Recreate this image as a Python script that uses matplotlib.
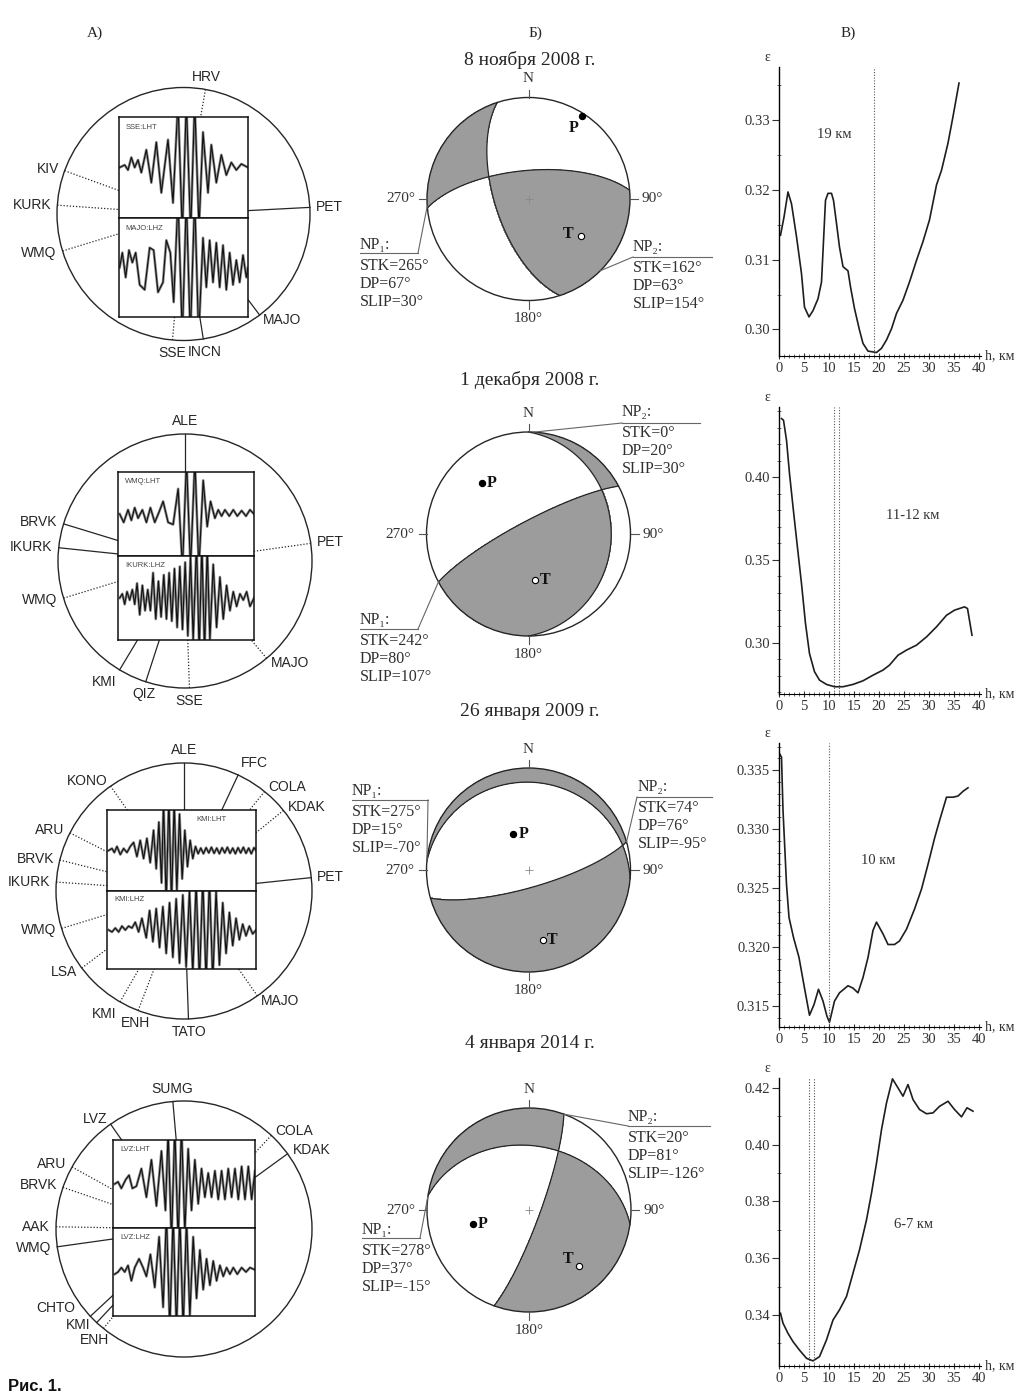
import numpy as np
import matplotlib.pyplot as plt
from matplotlib.patches import Circle
from matplotlib.ticker import MultipleLocator, FormatStrFormatter

plt.rcParams['font.family'] = ['Liberation Serif', 'DejaVu Serif']
SANS = ['Liberation Sans', 'DejaVu Sans']

W, H = 1025, 1396

# ---------------- data: focal mechanisms ----------------
DATES = ['8 ноября 2008 г.', '1 декабря 2008 г.', '26 января 2009 г.', '4 января 2014 г.']
NP1_STK = [265, 242, 275, 278]
NP1_DP = [67, 80, 15, 37]
NP1_SLIP = [30, 107, -70, -15]
NP2_STK = [162, 0, 74, 20]
NP2_DP = [63, 20, 76, 81]
NP2_SLIP = [154, 30, -95, -126]

# ---------------- data: stations (angle on scheme, deg ccw from east; 1 = dotted) ----------------
ST1_NAMES = ['HRV', 'KIV', 'KURK', 'WMQ', 'PET', 'MAJO', 'SSE', 'INCN']
ST1_ANG = [80, 160, 176, 197, 3, -53, -95, -81]
ST1_DOT = [1, 1, 1, 1, 0, 0, 1, 0]

ST2_NAMES = ['ALE', 'BRVK', 'IKURK', 'WMQ', 'PET', 'MAJO', 'KMI', 'QIZ', 'SSE']
ST2_ANG = [90, 163, 174, 197, 8, -50, -121, -108, -88]
ST2_DOT = [0, 0, 0, 1, 1, 1, 0, 0, 1]

ST3_NAMES = ['ALE', 'FFC', 'COLA', 'KDAK', 'KONO', 'ARU', 'BRVK', 'IKURK',
             'WMQ', 'PET', 'LSA', 'KMI', 'ENH', 'TATO', 'MAJO']
ST3_ANG = [90, 65, 51, 39, 125, 153, 166, 176, 197, 6, 217, 240, 249, 272, -55]
ST3_DOT = [0, 0, 1, 1, 1, 1, 1, 1, 1, 0, 1, 1, 1, 0, 1]

ST4_NAMES = ['SUMG', 'LVZ', 'COLA', 'KDAK', 'ARU', 'BRVK', 'AAK', 'WMQ', 'CHTO', 'KMI', 'ENH']
ST4_ANG = [95, 125, 47, 36, 151, 161, 179, 188, 223, 227, 231]
ST4_DOT = [0, 0, 1, 0, 1, 1, 1, 0, 0, 0, 1]
ST4_LAB = [95, 125, 47, 36, 151, 161, 179, 188, 216, 226, 236]

# ---------------- data: waveforms (time in arbitrary units, amplitude) ----------------
TR_LABELS = [('SSE:LHT', 'MAJO:LHZ'), ('WMQ:LHT', 'IKURK:LHZ'),
             ('KMI:LHT', 'KMI:LHZ'), ('LVZ:LHT', 'LVZ:LHZ')]
TR_SPAN = [(358, 745), (355, 762), (320, 768), (340, 765)]

tr1_top_t = [360, 375, 385, 395, 405, 415, 425, 440, 455, 470, 485, 505, 520, 535, 548,
             560, 573, 585, 598, 610, 625, 635, 650, 665, 680, 695, 710, 725, 745]
tr1_top_a = [0, 0.05, -0.05, 0.2, 0, 0.15, -0.1, 0.35, -0.3, 0.5, -0.5, 0.55, -0.7, 1.3, -1.3,
             1.3, -1.3, 1.3, -1.2, 0.7, -0.5, 0.45, -0.3, 0.25, -0.15, 0.1, -0.05, 0.07, 0]
tr1_bot_t = [360, 368, 378, 388, 398, 408, 420, 435, 450, 462, 475, 490, 500, 512, 522, 535,
             548, 560, 572, 585, 597, 610, 620, 630, 640, 650, 660, 670, 680, 690, 700, 710,
             720, 730, 740, 745]
tr1_bot_a = [0, 0.3, -0.2, 0.35, 0.1, 0.3, -0.35, -0.45, 0.4, 0.35, -0.5, -0.3, 0.55, 0.3, -0.7,
             1.4, -1.4, 1.4, -1.4, 1.4, -1.4, 0.6, -0.4, 0.55, -0.3, 0.5, -0.4, 0.45, -0.45, 0.3,
             -0.35, 0.15, -0.3, 0.25, -0.2, 0]

tr2_top_t = [360, 372, 385, 395, 405, 415, 428, 440, 452, 465, 478, 490, 505, 520, 535, 548,
             560, 572, 585, 597, 610, 622, 632, 645, 655, 665, 675, 688, 700, 712, 725, 738,
             750, 762]
tr2_top_a = [0, -0.2, 0.1, -0.15, 0.15, -0.1, 0.1, -0.2, 0.15, -0.2, 0.05, 0.3, -0.2, -0.25,
             0.6, -1.3, 1.3, -1.3, 1.3, -1.3, 0.8, -0.3, 0.3, -0.1, 0.1, -0.05, 0.1, -0.05,
             0.1, -0.05, 0.08, -0.05, 0.1, 0]
tr2_bot_t = [360, 368, 375, 382, 390, 398, 405, 412, 420, 428, 436, 444, 452, 460, 468, 476,
             484, 492, 500, 508, 516, 524, 532, 540, 548, 556, 564, 572, 580, 590, 598, 606,
             614, 622, 630, 640, 650, 660, 670, 680, 690, 700, 710, 720, 730, 740, 750, 762]
tr2_bot_a = [0, 0.1, -0.15, 0.15, -0.05, 0.2, -0.15, 0.35, -0.4, 0.3, -0.3, 0.2, -0.3, 0.6,
             -0.5, 0.4, -0.45, 0.55, -0.5, 0.6, -0.55, 0.7, -0.7, 0.75, -0.75, 0.85, -0.9,
             1.0, -1.0, 1.3, -1.3, 1.3, -1.3, 1.2, -1.0, 0.8, -0.7, 0.5, -0.5, 0.3, -0.3,
             0.15, -0.2, 0.1, -0.05, 0.15, -0.2, 0]

tr3_top_t = [325, 335, 342, 350, 360, 370, 380, 390, 400, 410, 420, 430, 440, 450, 460, 468,
             476, 484, 490, 498, 506, 514, 522, 530, 538, 546, 554, 562, 570, 578, 586, 594,
             602, 610, 618, 626, 634, 642, 650, 658, 666, 674, 682, 690, 698, 706, 714, 722,
             730, 738, 746, 754, 762, 768]
tr3_top_a = [0, 0.05, -0.05, 0.1, -0.1, 0.05, -0.05, 0.1, 0.2, -0.15, 0.25, -0.2, 0.3, -0.3,
             0.5, -0.45, 0.7, -0.8, 1.2, -1.3, 1.3, -1.3, 1.2, -1.0, 0.9, -0.7, 0.5, -0.4,
             0.25, -0.2, 0.1, -0.08, 0.06, -0.08, 0.07, -0.06, 0.08, -0.07, 0.06, -0.08, 0.07,
             -0.06, 0.08, -0.07, 0.06, -0.08, 0.07, -0.06, 0.08, -0.07, 0.06, -0.08, 0.07, 0]
tr3_bot_t = [325, 335, 345, 355, 365, 375, 385, 395, 405, 415, 425, 438, 448, 458, 468, 478,
             488, 498, 508, 518, 528, 538, 548, 558, 568, 578, 588, 598, 608, 618, 628, 638,
             648, 658, 668, 678, 688, 698, 708, 718, 728, 738, 748, 758, 768]
tr3_bot_a = [0, -0.05, 0.05, -0.05, 0.1, 0, 0.1, 0.05, 0.2, -0.05, 0.3, -0.2, 0.5, -0.3, 0.55,
             -0.45, 0.6, -0.6, 0.7, -0.7, 0.8, -0.85, 0.9, -0.95, 1.0, -1.1, 1.2, -1.3, 1.3,
             -1.3, 1.3, -1.3, 1.0, -0.9, 0.7, -0.6, 0.45, -0.4, 0.3, -0.25, 0.15, -0.15, 0.1,
             -0.1, 0]

tr4_top_t = [345, 355, 365, 378, 388, 398, 410, 425, 440, 455, 470, 485, 497, 505, 515, 525,
             535, 545, 555, 565, 575, 585, 595, 605, 615, 625, 635, 645, 655, 665, 675, 685,
             695, 705, 715, 725, 735, 745, 755, 765]
tr4_top_a = [0, 0.05, -0.1, 0.1, 0.2, -0.1, -0.05, 0.35, -0.3, 0.55, -0.5, 0.75, -0.6, 1.2,
             -1.3, 1.3, -1.3, 1.3, -1.1, 0.8, -0.6, 0.55, -0.45, 0.35, -0.3, 0.25, -0.3, 0.3,
             -0.35, 0.3, -0.35, 0.35, -0.3, 0.35, -0.35, 0.4, -0.35, 0.4, -0.35, 0.3]
tr4_bot_t = [345, 355, 365, 375, 385, 395, 405, 418, 430, 440, 452, 465, 478, 490, 500, 510,
             520, 530, 540, 550, 560, 570, 580, 590, 600, 610, 620, 630, 640, 650, 660, 670,
             680, 690, 700, 712, 725, 738, 750, 765]
tr4_bot_a = [-0.05, 0, 0.1, 0, 0.15, -0.2, 0.1, 0.3, 0.1, -0.1, 0.4, -0.35, 0.8, -0.8, 1.3,
             -1.3, 1.3, -1.3, 1.3, -1.3, 1.2, -1.0, 0.8, -0.6, 0.5, -0.4, 0.3, -0.3, 0.25,
             -0.2, 0.15, -0.1, 0.1, -0.05, 0.1, -0.05, 0.1, 0, 0.1, 0.05]

# ---------------- data: misfit vs depth ----------------
H_1 = [0.3, 1, 1.8, 2.5, 3.5, 4.5, 5.1, 6, 6.8, 7.8, 8.5, 9.3, 9.8, 10.5, 10.9, 11.5, 12.1,
       12.8, 13.8, 14.3, 15.1, 16.1, 16.8, 17.8, 19.5, 20.5, 21.5, 22.5, 23.5, 24.8, 26.1,
       27.5, 28.8, 30.1, 31.5, 32.5, 33.8, 34.8, 36]
E_1 = [0.3135, 0.3161, 0.3197, 0.318, 0.3133, 0.308, 0.3032, 0.3018, 0.3027, 0.3044, 0.3068,
       0.3185, 0.3195, 0.3195, 0.3185, 0.3152, 0.3118, 0.309, 0.3084, 0.3061, 0.303, 0.2999,
       0.298, 0.2969, 0.2967, 0.2973, 0.2985, 0.3001, 0.3023, 0.3042, 0.3068, 0.3099, 0.3126,
       0.3157, 0.3207, 0.3228, 0.3267, 0.3305, 0.3353]
H_2 = [0.5, 0.9, 1.5, 2.1, 2.8, 3.6, 4.5, 5.3, 6.1, 7.1, 8.1, 9.5, 11.1, 12.8, 14.8, 16.8,
       18.8, 20.8, 22.1, 23.8, 25.5, 27.5, 29.5, 31.5, 33.5, 35.1, 37.1, 37.7, 38.6]
E_2 = [0.4357, 0.4347, 0.4226, 0.4024, 0.3823, 0.3601, 0.3357, 0.3115, 0.2933, 0.2823, 0.2772,
       0.2746, 0.2732, 0.2732, 0.2746, 0.2768, 0.2802, 0.2833, 0.2863, 0.2923, 0.2954, 0.2984,
       0.3034, 0.3095, 0.3165, 0.3196, 0.3216, 0.3206, 0.3044]
H_3 = [0.1, 0.5, 0.8, 1.5, 2.0, 2.9, 4.0, 5.1, 6.1, 7.0, 7.9, 8.8, 9.6, 10.1, 11.1, 12.1, 13.8,
       14.8, 15.8, 16.8, 17.8, 18.8, 19.5, 20.8, 21.8, 23.1, 24.1, 25.5, 27.1, 28.5, 29.8,
       31.1, 32.1, 33.5, 34.8, 35.8, 36.8, 37.8]
E_3 = [0.3364, 0.3361, 0.3316, 0.3253, 0.3225, 0.3208, 0.3191, 0.3165, 0.3142, 0.3151, 0.3164,
       0.3154, 0.3141, 0.3136, 0.3154, 0.3161, 0.3167, 0.3165, 0.3161, 0.3174, 0.3191, 0.3214,
       0.3221, 0.3211, 0.3202, 0.3202, 0.3205, 0.3215, 0.3232, 0.3249, 0.327, 0.3292, 0.3307,
       0.3327, 0.3327, 0.3328, 0.3332, 0.3335]
H_4 = [0.3, 0.8, 1.8, 2.8, 4.1, 5.5, 6.8, 8.1, 9.5, 10.8, 12.1, 13.5, 14.8, 16.1, 17.5, 18.5,
       19.5, 20.5, 21.5, 22.7, 23.8, 24.8, 25.8, 26.8, 28.1, 29.5, 30.8, 32.1, 33.8, 35.1,
       36.5, 37.6, 38.8]
E_4 = [0.3406, 0.3371, 0.3335, 0.3306, 0.3276, 0.3247, 0.3238, 0.3253, 0.3312, 0.3382, 0.3418,
       0.3465, 0.3547, 0.3629, 0.3735, 0.3829, 0.3935, 0.4053, 0.4147, 0.4232, 0.42, 0.4171,
       0.4212, 0.4159, 0.4124, 0.4109, 0.4112, 0.4135, 0.4153, 0.4124, 0.4098, 0.413, 0.4118]
BEST_DEPTH = [[19], [11, 12], [10], [6, 7]]
DEPTH_NOTE = ['19 км', '11-12 км', '10 км', '6-7 км']

# ---------------- layout (pixels) ----------------
CIRC_A = [(183.5, 214, 126.5), (185, 561, 127), (184, 891, 128), (184, 1229, 128)]
BOX_A = [(119, 117, 248, 317, 218), (118, 472, 254, 640, 556),
         (107, 810, 256, 969, 891), (113, 1140, 255, 1316, 1228)]
CIRC_B = [(528.5, 199, 101.5), (528.5, 534, 102), (528.5, 870, 102), (529, 1210, 102)]
DATE_Y = [60, 380, 712, 1043]
# text x, first-line y, underline y, underline x0, x1, anchor azimuth on circle
NP1_POS = [(360, 245, 253, 360, 418, 266), (360, 620, 629, 360, 418, 242),
           (352, 791, 800, 352, 428, 275), (362, 1230, 1238, 362, 420, 278)]
NP2_POS = [(633, 247, 257, 633, 712, 135), (622, 412, 423, 622, 700, 3),
           (638, 787, 797, 637, 712, 74), (628, 1117, 1126, 628, 710, 20)]
PT_OFF = [((-8, 12), (-13, -2)), ((10, 0), (10, 0)), ((10, 0), (10, 0)), ((10, 0), (-11, -7))]
C_RECT = [(779, 67, 981, 356), (779, 407, 981, 694), (779, 743, 981, 1027), (779, 1078, 981, 1366)]
C_YLIM = [(0.2962, 0.3376), (0.2688, 0.4427), (0.3132, 0.3373), (0.322, 0.4235)]
C_YTICKS = [[0.30, 0.31, 0.32, 0.33], [0.30, 0.35, 0.40],
            [0.315, 0.320, 0.325, 0.330, 0.335], [0.34, 0.36, 0.38, 0.40, 0.42]]
C_MINOR = [0.005, 0.01, 0.001, 0.01]
C_FMT = ['%.2f', '%.2f', '%.3f', '%.2f']
NOTE_XY = [(11, 0.3279), (26.8, 0.3772), (19.8, 0.3273), (26.8, 0.3718)]

INK = '#262626'
GRAY = '#9c9c9c'


def fig_rect(x0, y0, x1, y1):
    return [x0 / W, 1 - y1 / H, (x1 - x0) / W, (y1 - y0) / H]


fig = plt.figure(figsize=(W / 100, H / 100), dpi=100)
ov = fig.add_axes([0, 0, 1, 1])
ov.set_xlim(0, W)
ov.set_ylim(H, 0)
ov.axis('off')
ov.patch.set_visible(False)

# column headers
for x, s in [(95, 'А)'), (535, 'Б)'), (848, 'В)')]:
    ov.text(x, 33, s, ha='center', va='center', fontsize=11, color=INK)


# ---------------- column A: station scheme + waveforms ----------------
def station_scheme(i, names, angs, dots, labs, traces):
    cx, cy, R = CIRC_A[i]
    bx0, by0, bx1, by1, bym = BOX_A[i]
    ov.add_patch(Circle((cx, cy), R, fill=False, ec=INK, lw=1.0))
    for name, a, dot, la in zip(names, angs, dots, labs):
        ux, uy = np.cos(np.radians(a)), -np.sin(np.radians(a))
        sx = ((bx1 - cx) / ux if ux > 0 else (bx0 - cx) / ux) if abs(ux) > 1e-9 else 1e9
        sy = ((by1 - cy) / uy if uy > 0 else (by0 - cy) / uy) if abs(uy) > 1e-9 else 1e9
        s_in = min(sx, sy)
        ov.plot([cx + R * ux, cx + s_in * ux], [cy + R * uy, cy + s_in * uy],
                color=INK, lw=0.9, ls=(0, (1, 1.5)) if dot else '-')
        lx, ly = np.cos(np.radians(la)), np.sin(np.radians(la))
        ha = 'left' if lx > 0.4 else ('right' if lx < -0.4 else 'center')
        va = 'bottom' if ly > 0.85 else ('top' if ly < -0.85 else 'center')
        ov.text(cx + (R + 6) * lx, cy - (R + 6) * ly, name, ha=ha, va=va,
                fontsize=10, family=SANS, color=INK)
    t0, t1 = TR_SPAN[i]
    for k, (yy0, yy1) in enumerate([(by0, bym), (bym, by1)]):
        ax = fig.add_axes(fig_rect(bx0, yy0, bx1, yy1))
        t, a = traces[k]
        ax.plot(t, a, color='#8a8a8a', lw=1.9, solid_joinstyle='round')
        ax.plot(t, a, color='#111111', lw=0.8)
        ax.set_xlim(t0, t1)
        ax.set_ylim(-1, 1)
        ax.set_xticks([])
        ax.set_yticks([])
        for sp in ax.spines.values():
            sp.set_linewidth(1.1)
            sp.set_color('#111111')
        lx = 0.6 if (i == 2 and k == 0) else 0.05
        ax.text(lx, 0.93, TR_LABELS[i][k], transform=ax.transAxes, fontsize=5.5,
                va='top', family=SANS, color='#444444')


station_scheme(0, ST1_NAMES, ST1_ANG, ST1_DOT, ST1_ANG,
               [(tr1_top_t, tr1_top_a), (tr1_bot_t, tr1_bot_a)])
station_scheme(1, ST2_NAMES, ST2_ANG, ST2_DOT, ST2_ANG,
               [(tr2_top_t, tr2_top_a), (tr2_bot_t, tr2_bot_a)])
station_scheme(2, ST3_NAMES, ST3_ANG, ST3_DOT, ST3_ANG,
               [(tr3_top_t, tr3_top_a), (tr3_bot_t, tr3_bot_a)])
station_scheme(3, ST4_NAMES, ST4_ANG, ST4_DOT, ST4_LAB,
               [(tr4_top_t, tr4_top_a), (tr4_bot_t, tr4_bot_a)])


# ---------------- column B: focal mechanisms ----------------
def fault_vectors(stk, dp, rk):
    f, d, l = np.radians([stk, dp, rk])
    n = np.array([-np.sin(d) * np.sin(f), np.sin(d) * np.cos(f), -np.cos(d)])
    s = np.array([np.cos(l) * np.cos(f) + np.sin(l) * np.cos(d) * np.sin(f),
                  np.cos(l) * np.sin(f) - np.sin(l) * np.cos(d) * np.cos(f),
                  -np.sin(l) * np.sin(d)])
    return n, s


def proj(v):
    # lower hemisphere, equal-area; v = (north, east, down)
    th = np.arccos(np.clip(v[2], -1, 1))
    az = np.arctan2(v[1], v[0])
    r = np.sqrt(2) * np.sin(th / 2)
    return r * np.sin(az), r * np.cos(az)


def plane_curve(stk, dp):
    f, d = np.radians([stk, dp])
    t = np.linspace(0, np.pi, 300)
    sv = np.array([np.cos(f), np.sin(f), 0])
    dv = np.array([np.cos(d) * np.cos(f + np.pi / 2), np.cos(d) * np.sin(f + np.pi / 2), np.sin(d)])
    return proj(np.outer(sv, np.cos(t)) + np.outer(dv, np.sin(t)))


for i in range(4):
    cx, cy, R = CIRC_B[i]
    ov.text(530, DATE_Y[i], DATES[i], ha='center', va='center', fontsize=14, color=INK)
    n, d = fault_vectors(NP1_STK[i], NP1_DP[i], NP1_SLIP[i])
    g = np.linspace(-1, 1, 601)
    X, Y = np.meshgrid(g, g)
    r = np.hypot(X, Y)
    th = 2 * np.arcsin(np.clip(r / np.sqrt(2), 0, 1))
    az = np.arctan2(X, Y)
    v = np.stack([np.sin(th) * np.cos(az), np.sin(th) * np.sin(az), np.cos(th)])
    pol = np.tensordot(n, v, 1) * np.tensordot(d, v, 1)
    pol = np.ma.masked_where(r > 1, pol)
    ov.contourf(cx + R * X, cy - R * Y, pol, levels=[0, 10], colors=[GRAY])
    for stk, dp in [(NP1_STK[i], NP1_DP[i]), (NP2_STK[i], NP2_DP[i])]:
        px, py = plane_curve(stk, dp)
        ov.plot(cx + R * px, cy - R * py, color=INK, lw=0.9)
    ov.add_patch(Circle((cx, cy), R, fill=False, ec=INK, lw=1.0))
    if i != 1:
        ov.plot(cx, cy, '+', color='#888888', ms=6, mew=0.6)

    # cardinal ticks
    for a, lab in [(0, 'N'), (90, '90°'), (180, '180°'), (270, '270°')]:
        ux, uy = np.sin(np.radians(a)), -np.cos(np.radians(a))
        ov.plot([cx + R * ux, cx + (R + 8) * ux], [cy + R * uy, cy + (R + 8) * uy],
                color='#555555', lw=0.8)
        ha = {0: 'center', 90: 'left', 180: 'center', 270: 'right'}[a]
        va = {0: 'bottom', 90: 'center', 180: 'top', 270: 'center'}[a]
        ov.text(cx + (R + 12) * ux, cy + (R + 12) * uy, lab, ha=ha, va=va,
                fontsize=11, color='#333333')

    # P and T axes
    for vec, lab, filled, off in [(n - d, 'P', True, PT_OFF[i][0]), (n + d, 'T', False, PT_OFF[i][1])]:
        vec = vec / np.linalg.norm(vec)
        if vec[2] < 0:
            vec = -vec
        x, y = proj(vec)
        ov.plot(cx + R * x, cy - R * y, 'o', ms=4.5, mfc='k' if filled else 'w',
                mec='k', mew=0.8, zorder=5)
        ov.text(cx + R * x + off[0], cy - R * y + off[1], lab, ha='center', va='center',
                fontsize=11.5, fontweight='bold', color='#111111')

    # nodal plane annotations
    for k, pos in enumerate([NP1_POS[i], NP2_POS[i]]):
        tx, ty, uly, ux0, ux1, anc = pos
        stk = [NP1_STK, NP2_STK][k][i]
        dp = [NP1_DP, NP2_DP][k][i]
        sl = [NP1_SLIP, NP2_SLIP][k][i]
        lines = ['NP₁:' if k == 0 else 'NP₂:', f'STK={stk}°', f'DP={dp}°', f'SLIP={sl}°']
        for j, s in enumerate(lines):
            ov.text(tx, ty + 18 * j + (3 if j else 0), s, ha='left', va='center',
                    fontsize=11.5, color='#303030')
        ax_ = cx + R * np.sin(np.radians(anc))
        ay_ = cy - R * np.cos(np.radians(anc))
        ex = ux1 if k == 0 else ux0
        ov.plot([ux0, ux1], [uly, uly], color='#666666', lw=0.8)
        ov.plot([ax_, ex], [ay_, uly], color='#666666', lw=0.8)


# ---------------- column C: misfit vs depth ----------------
CURVES = [(H_1, E_1), (H_2, E_2), (H_3, E_3), (H_4, E_4)]
for i in range(4):
    ax = fig.add_axes(fig_rect(*C_RECT[i]))
    ax.patch.set_visible(False)
    h, e = CURVES[i]
    ax.plot(h, e, color='#1e1e1e', lw=1.2)
    for bd in BEST_DEPTH[i]:
        ax.axvline(bd, color='#555555', ls=(0, (1, 1.5)), lw=0.8)
    ax.set_xlim(0, 40.4)
    ax.set_ylim(*C_YLIM[i])
    ax.set_xticks(range(0, 41, 5))
    ax.xaxis.set_minor_locator(MultipleLocator(1))
    ax.set_yticks(C_YTICKS[i])
    ax.yaxis.set_minor_locator(MultipleLocator(C_MINOR[i]))
    ax.yaxis.set_major_formatter(FormatStrFormatter(C_FMT[i]))
    ax.spines['top'].set_visible(False)
    ax.spines['right'].set_visible(False)
    ax.spines['left'].set_linewidth(1.0)
    ax.spines['bottom'].set_linewidth(0.8)
    ax.tick_params(axis='both', which='major', length=5, width=0.8, labelsize=10.5,
                   colors='#333333', pad=1.5)
    ax.tick_params(axis='x', which='major', direction='inout', length=5)
    ax.tick_params(axis='both', which='minor', direction='inout', length=3, width=0.6,
                   colors='#555555')
    ax.text(NOTE_XY[i][0], NOTE_XY[i][1], DEPTH_NOTE[i], ha='center', va='center',
            fontsize=10.5, color='#333333')
    ax.text(-0.06, 1.01, 'ε', transform=ax.transAxes, ha='center', va='bottom',
            fontsize=10, color='#333333')
    ax.text(1.02, 0.0, 'h, км', transform=ax.transAxes, ha='left', va='center',
            fontsize=10, color='#333333')

ov.text(8, 1394, 'Рис. 1.', ha='left', va='bottom', fontsize=12, fontweight='bold',
        family=SANS, color='#111111')

fig.savefig('out.png', dpi=100)
